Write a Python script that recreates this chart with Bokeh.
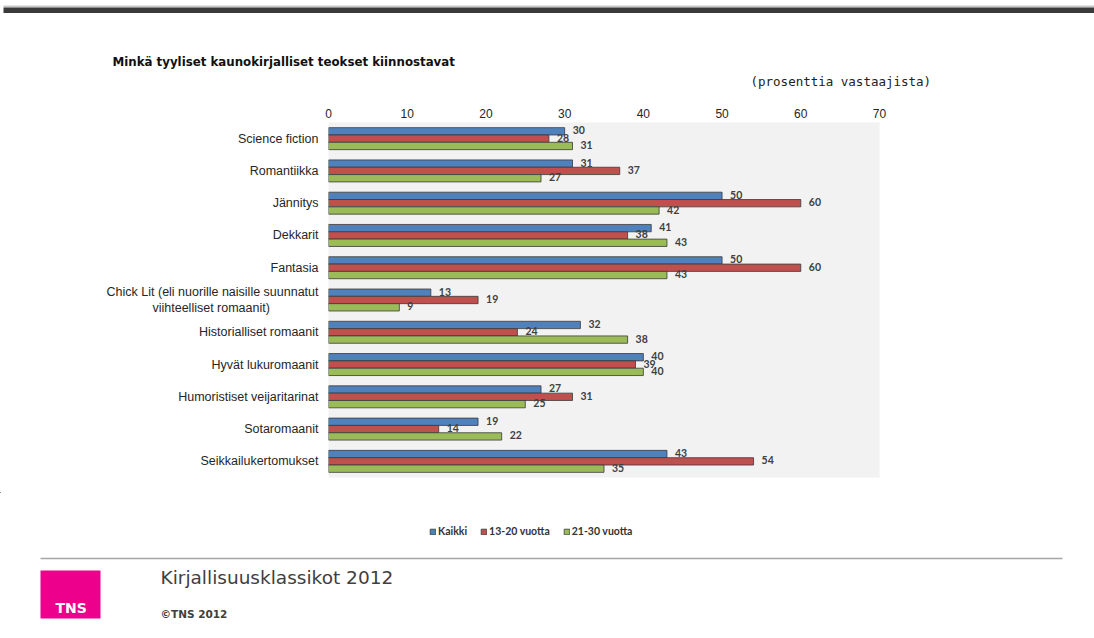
from bokeh.plotting import figure
from bokeh.models import (ColumnDataSource, FactorRange, Range1d, Legend, LegendItem, FixedTicker)
from bokeh.transform import dodge
from bokeh.core.properties import value
from bokeh.embed import file_html
from bokeh.resources import INLINE

# ---------------- data ----------------
categories = [
    "Science fiction",
    "Romantiikka",
    "Jännitys",
    "Dekkarit",
    "Fantasia",
    "Chick Lit (eli nuorille naisille suunnatut\nviihteelliset romaanit)" + "\u00a0" * 14,
    "Historialliset romaanit",
    "Hyvät lukuromaanit",
    "Humoristiset veijaritarinat",
    "Sotaromaanit",
    "Seikkailukertomukset",
]
kaikki = [30, 31, 50, 41, 50, 13, 32, 40, 27, 19, 43]
vuotta_13_20 = [28, 37, 60, 38, 60, 19, 24, 39, 31, 14, 54]
vuotta_21_30 = [31, 27, 42, 43, 43, 9, 38, 40, 25, 22, 35]
series_names = ["Kaikki", "13-20 vuotta", "21-30 vuotta"]
x_ticks = [0, 10, 20, 30, 40, 50, 60, 70]

title_text = "Minkä tyyliset kaunokirjalliset teokset kiinnostavat"
unit_text = "(prosenttia vastaajista)"
footer_text = "Kirjallisuusklassikot 2012"
copyright_text = "©TNS 2012"
logo_text = "TNS"

# ---------------- layout ----------------
W = 1094
HEAD_H = 95
FL, FR, FT, FB = 328, 879, 122, 477          # plot frame in page pixels
MAIN_TOP_BORDER = FT - HEAD_H
MAIN_BOTTOM_BORDER = 15
MAIN_H = MAIN_TOP_BORDER + (FB - FT) + MAIN_BOTTOM_BORDER
FOOT_TOP = HEAD_H + MAIN_H
FOOT_H = 638 - FOOT_TOP
colors = ["#4f81bd", "#c0504d", "#9bbb59"]
BAR_H = 0.227
BAR_LINE = "#3a3a3a"


def deco_fig(h):
    f = figure(width=W, height=h, output_backend="svg", toolbar_location=None,
               x_range=Range1d(0, W), y_range=Range1d(h, 0),
               x_axis_type=None, y_axis_type=None, min_border=0, title=None)
    f.outline_line_color = None
    f.background_fill_color = "white"
    f.border_fill_color = "white"
    f.grid.grid_line_color = None
    return f


def put_text(f, txt, x, y, size, font, style="normal", color="#222222", align="left"):
    f.text(x=[x], y=[y], text=[txt], text_font=value(font), text_font_size=f"{size}px",
           text_font_style=style, text_color=color, text_align=align, text_baseline="middle")


# ---------- header ----------
head = deco_fig(HEAD_H)
head.quad(left=[3], right=[W], top=[5], bottom=[7], fill_color="#c8c8c8", line_color=None)
head.quad(left=[3], right=[W], top=[7], bottom=[12.5], fill_color="#3a3a3a", line_color=None)
put_text(head, title_text, 112, 61, 11.8, "DejaVu Sans", "bold", "#111111")
put_text(head, unit_text, 750, 81, 12.5, "DejaVu Sans Mono", "normal", "#222222")

# ---------- main chart ----------
p = figure(width=W, height=MAIN_H, output_backend="svg", toolbar_location=None,
           y_range=FactorRange(factors=categories[::-1]), x_range=Range1d(0, 70),
           x_axis_location="above", title=None,
           min_border_left=FL, min_border_right=W - FR,
           min_border_top=MAIN_TOP_BORDER, min_border_bottom=MAIN_BOTTOM_BORDER)

p.background_fill_color = "#f2f2f2"
p.border_fill_color = "white"
p.outline_line_color = None
p.xgrid.grid_line_color = None
p.ygrid.grid_line_color = None

p.xaxis.ticker = FixedTicker(ticks=x_ticks)
for ax in (p.xaxis, p.yaxis):
    ax.axis_line_color = None
    ax.major_tick_line_color = None
    ax.minor_tick_line_color = None
    ax.major_tick_in = 0
    ax.major_tick_out = 0
    ax.major_label_text_font = "Liberation Sans"
    ax.major_label_text_color = "#262626"
p.xaxis.major_label_text_font_size = "12px"
p.yaxis.major_label_text_font_size = "12.5px"
p.xaxis.major_label_standoff = 5
p.yaxis.major_label_standoff = 10

src = ColumnDataSource(dict(
    cat=categories,
    kaikki=kaikki, v1320=vuotta_13_20, v2130=vuotta_21_30,
    kaikki_t=[str(v) for v in kaikki],
    v1320_t=[str(v) for v in vuotta_13_20],
    v2130_t=[str(v) for v in vuotta_21_30],
))

keys = ["kaikki", "v1320", "v2130"]
offsets = [BAR_H, 0.0, -BAR_H]
for k, off, col in zip(keys, offsets, colors):
    p.hbar(y=dodge("cat", off, range=p.y_range), left=0, right=k, height=BAR_H,
           source=src, fill_color=col, line_color=BAR_LINE, line_width=0.8)
for k, off in zip(keys, offsets):
    p.text(x=k, y=dodge("cat", off, range=p.y_range), text=k + "_t", source=src,
           x_offset=8, y_offset=-1, text_font=value("Lato"), text_font_style="bold",
           text_font_size="10.5px", text_color="#404040", text_baseline="middle")

# ---------- footer with legend ----------
foot = deco_fig(FOOT_H)
legend_renderers = []
for col in colors:
    # swatch-only renderer, kept far outside the visible ranges
    r = foot.hbar(y=[-500], left=[-500], right=[-499], height=1, fill_color=col,
                  line_color=BAR_LINE, line_width=0.8)
    legend_renderers.append(r)
legend_center_y = 532 - FOOT_TOP
legend = Legend(items=[LegendItem(label=n, renderers=[r])
                       for n, r in zip(series_names, legend_renderers)],
                orientation="horizontal", location=(429, FOOT_H - legend_center_y - 5),
                border_line_color=None, background_fill_alpha=0, padding=0, margin=0,
                spacing=13, glyph_width=7, glyph_height=7, label_standoff=2, label_height=10,
                label_text_font="Lato", label_text_font_style="bold",
                label_text_font_size="10.5px", label_text_color="#333333")
foot.add_layout(legend)

foot.quad(left=[40], right=[1062], top=[558 - FOOT_TOP - 0.8], bottom=[558 - FOOT_TOP + 0.8],
          fill_color="#a6a6a6", line_color=None)
foot.quad(left=[40], right=[100], top=[570 - FOOT_TOP], bottom=[618 - FOOT_TOP],
          fill_color="#ec008c", line_color=None)
put_text(foot, logo_text, 55, 607 - FOOT_TOP, 14, "DejaVu Sans", "bold", "white")
put_text(foot, footer_text, 160, 577 - FOOT_TOP, 18.5, "DejaVu Sans", "normal", "#404040")
put_text(foot, copyright_text, 160, 613 - FOOT_TOP, 10.5, "DejaVu Sans", "bold", "#404040")

open("out.html", "w").write(file_html([head, p, foot], INLINE))
